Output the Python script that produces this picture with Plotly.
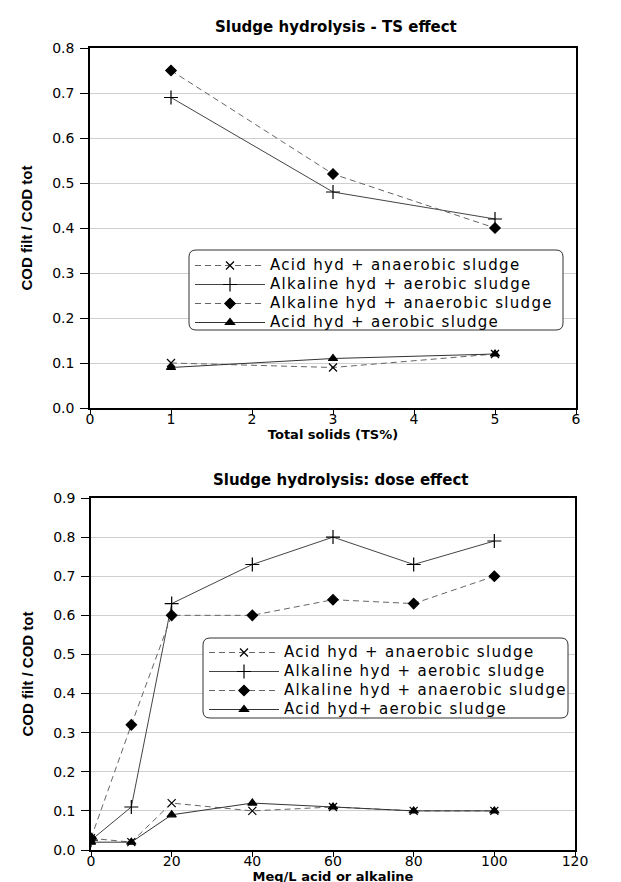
import plotly.graph_objects as go

W, H = 621, 882

# ---------------- data ----------------
series_names = [
    "Acid hyd + anaerobic sludge",
    "Alkaline hyd + aerobic sludge",
    "Alkaline hyd + anaerobic sludge",
    "Acid hyd + aerobic sludge",
]
series_names_dose = [
    "Acid hyd + anaerobic sludge",
    "Alkaline hyd + aerobic sludge",
    "Alkaline hyd + anaerobic sludge",
    "Acid hyd+ aerobic sludge",
]

ts_x = [1, 3, 5]
ts_acid_anaerobic = [0.10, 0.09, 0.12]
ts_alk_aerobic = [0.69, 0.48, 0.42]
ts_alk_anaerobic = [0.75, 0.52, 0.40]
ts_acid_aerobic = [0.09, 0.11, 0.12]

dose_x = [0, 10, 20, 40, 60, 80, 100]
dose_acid_anaerobic = [0.03, 0.02, 0.12, 0.10, 0.11, 0.10, 0.10]
dose_alk_aerobic = [0.025, 0.11, 0.63, 0.73, 0.80, 0.73, 0.79]
dose_alk_anaerobic = [0.03, 0.32, 0.60, 0.60, 0.64, 0.63, 0.70]
dose_acid_aerobic = [0.02, 0.02, 0.09, 0.12, 0.11, 0.10, 0.10]

ts_ticks = [0, 1, 2, 3, 4, 5, 6]
ts_yticks = [0.0, 0.1, 0.2, 0.3, 0.4, 0.5, 0.6, 0.7, 0.8]
dose_ticks = [0, 20, 40, 60, 80, 100, 120]
dose_yticks = [0.0, 0.1, 0.2, 0.3, 0.4, 0.5, 0.6, 0.7, 0.8, 0.9]

title_ts = "Sludge hydrolysis - TS effect"
title_dose = "Sludge hydrolysis: dose effect"
xlabel_ts = "Total solids (TS%)"
xlabel_dose = "Meq/L acid or alkaline"
ylabel = "COD filt / COD tot"

# ---------------- styles ----------------
FONT = "DejaVu Sans, Liberation Sans, Arial, sans-serif"
YT_FONT = "Liberation Sans, Arial, sans-serif"
styles = [
    dict(symbol="x-thin-open", size=8, dash="6px,4px", color="#666666"),
    dict(symbol="cross-thin-open", size=10, dash="solid", color="#444444"),
    dict(symbol="diamond", size=8, dash="6px,4px", color="#666666"),
    dict(symbol="triangle-up", size=8, dash="solid", color="#333333"),
]


def fx(p):
    return p / W


def fy(p):
    return 1 - p / H


def legend_label(name):
    return '<span style="font-size:15px;letter-spacing:1.3px">' + name + "</span>"


fig = go.Figure()

ts_series = [ts_acid_anaerobic, ts_alk_aerobic, ts_alk_anaerobic, ts_acid_aerobic]
dose_series = [dose_acid_anaerobic, dose_alk_aerobic, dose_alk_anaerobic, dose_acid_aerobic]

for name, ys, st in zip(series_names, ts_series, styles):
    fig.add_trace(go.Scatter(
        x=ts_x, y=ys, name=legend_label(name), mode="lines+markers",
        xaxis="x", yaxis="y", legend="legend",
        line=dict(color=st["color"], width=1, dash=st["dash"]),
        marker=dict(symbol=st["symbol"], size=st["size"], color="black",
                    line=dict(color="black", width=1.2)),
    ))

for name, ys, st in zip(series_names_dose, dose_series, styles):
    fig.add_trace(go.Scatter(
        x=dose_x, y=ys, name=legend_label(name), mode="lines+markers",
        xaxis="x2", yaxis="y2", legend="legend2",
        line=dict(color=st["color"], width=1, dash=st["dash"]),
        marker=dict(symbol=st["symbol"], size=st["size"], color="black",
                    line=dict(color="black", width=1.2)),
    ))

axis_common = dict(
    showline=True, linecolor="black", linewidth=1.5, mirror=True,
    ticks="outside", tickcolor="black", tickwidth=1,
    zeroline=False, automargin=False,
)
xfont = dict(family=FONT, size=14, color="black")
yfont = dict(family=FONT, size=14, color="black")
xtitle_font = dict(family=FONT, size=13, color="black")
ytitle_font = dict(family=YT_FONT, size=15, color="black")

legend_common = dict(
    xanchor="left", yanchor="top",
    bgcolor="rgba(0,0,0,0)", borderwidth=0,
    font=dict(family=FONT, size=12, color="black"),
    tracegroupgap=0, itemwidth=70,
)


def rounded_rect(x0, y0, x1, y1, r=7):
    pts = (
        f"M {fx(x0 + r)},{fy(y0)} L {fx(x1 - r)},{fy(y0)} "
        f"Q {fx(x1)},{fy(y0)} {fx(x1)},{fy(y0 + r)} "
        f"L {fx(x1)},{fy(y1 - r)} Q {fx(x1)},{fy(y1)} {fx(x1 - r)},{fy(y1)} "
        f"L {fx(x0 + r)},{fy(y1)} Q {fx(x0)},{fy(y1)} {fx(x0)},{fy(y1 - r)} "
        f"L {fx(x0)},{fy(y0 + r)} Q {fx(x0)},{fy(y0)} {fx(x0 + r)},{fy(y0)} Z"
    )
    return dict(type="path", xref="paper", yref="paper", path=pts,
                fillcolor="white", line=dict(color="#333333", width=1), layer="above")


fig.update_layout(
    width=W, height=H,
    margin=dict(l=0, r=0, t=0, b=0, autoexpand=False),
    paper_bgcolor="white", plot_bgcolor="white",
    font=dict(family=FONT, color="black"),
    showlegend=True,
    xaxis=dict(
        domain=[fx(82), fx(568)], anchor="y", range=[0, 6],
        tickvals=ts_ticks, showgrid=False, ticklen=5, tickfont=xfont,
        ticklabelstandoff=-8,
        title=dict(text="<b>" + xlabel_ts + "</b>", font=xtitle_font, standoff=0),
        **axis_common,
    ),
    yaxis=dict(
        domain=[fy(400), fy(40)], anchor="x", range=[0, 0.8],
        tickvals=ts_yticks, tickformat=".1f", ticklen=8, tickfont=yfont,
        ticklabelstandoff=3,
        showgrid=True, gridcolor="#cfcfcf", gridwidth=1,
        title=dict(text="<b>" + ylabel + "</b>", font=ytitle_font, standoff=16),
        **axis_common,
    ),
    xaxis2=dict(
        domain=[fx(83), fx(567)], anchor="y2", range=[0, 120],
        tickvals=dose_ticks, showgrid=False, ticklen=5, tickfont=xfont,
        ticklabelstandoff=-8,
        title=dict(text="<b>" + xlabel_dose + "</b>", font=xtitle_font, standoff=0),
        **axis_common,
    ),
    yaxis2=dict(
        domain=[fy(842), fy(490)], anchor="x2", range=[0, 0.9],
        tickvals=dose_yticks, tickformat=".1f", ticklen=8, tickfont=yfont,
        ticklabelstandoff=3,
        showgrid=True, gridcolor="#cfcfcf", gridwidth=1,
        title=dict(text="<b>" + ylabel + "</b>", font=ytitle_font, standoff=16),
        **axis_common,
    ),
    legend=dict(x=fx(182), y=fy(243), **legend_common),
    legend2=dict(x=fx(196), y=fy(630), **legend_common),
    shapes=[
        rounded_rect(181, 242, 555, 322),
        rounded_rect(195, 630, 560, 710),
    ],
    annotations=[
        dict(text="<b>" + title_ts + "</b>", xref="paper", yref="paper",
             x=fx(328), y=fy(19), xanchor="center", yanchor="middle",
             showarrow=False, font=dict(family=FONT, size=15, color="black")),
        dict(text="<b>" + title_dose + "</b>", xref="paper", yref="paper",
             x=fx(332), y=fy(472), xanchor="center", yanchor="middle",
             showarrow=False, font=dict(family=FONT, size=15, color="black")),
    ],
)

fig.write_html("out.html")
